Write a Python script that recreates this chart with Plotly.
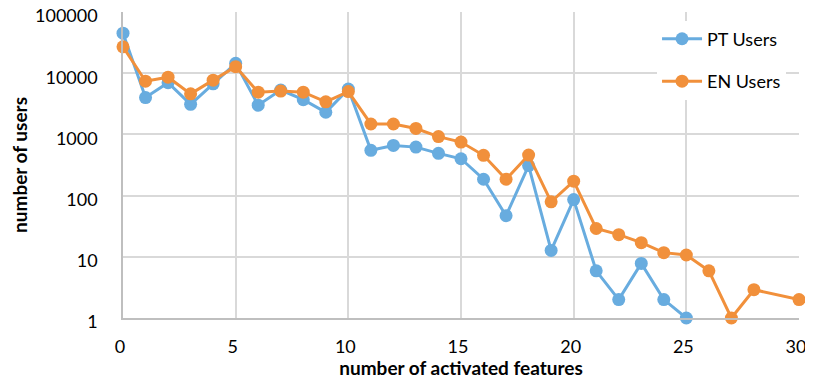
import plotly.graph_objects as go

pt_x = list(range(0, 26))
pt_users = [45000, 4000, 7000, 3100, 6700, 14500, 3000, 5300, 3700, 2300, 5500,
            550, 660, 620, 490, 400, 185, 47, 310, 12.7, 86, 5.9, 2, 7.8, 2, 1]
en_x = [0, 1, 2, 3, 4, 5, 6, 7, 8, 9, 10, 11, 12, 13, 14, 15, 16, 17, 18, 19, 20,
        21, 22, 23, 24, 25, 26, 27, 28, 30]
en_users = [27000, 7400, 8600, 4600, 7700, 12800, 4900, 5100, 4900, 3400, 5000,
            1480, 1480, 1250, 920, 750, 455, 185, 460, 79, 172, 29, 23, 17, 11.7,
            10.7, 5.9, 1, 2.9, 2]
y_ticks = [1, 10, 100, 1000, 10000, 100000]
x_ticks = [0, 5, 10, 15, 20, 25, 30]

BLUE = "#68ACDF"
ORANGE = "#F1903B"
FONT = "Lato, 'Open Sans', sans-serif"

fig = go.Figure()
fig.add_trace(go.Scatter(x=pt_x, y=pt_users, name="PT Users", mode="lines+markers",
                         legendgroup="pt",
                         line=dict(color=BLUE, width=3),
                         marker=dict(color=BLUE, size=13), cliponaxis=False))
fig.add_trace(go.Scatter(x=en_x, y=en_users, name="EN Users", mode="lines+markers",
                         legendgroup="en",
                         line=dict(color=ORANGE, width=3),
                         marker=dict(color=ORANGE, size=13), cliponaxis=False))

fig.update_layout(
    width=797, height=371,
    margin=dict(l=115, r=6, t=4, b=61, autoexpand=False),
    paper_bgcolor="white", plot_bgcolor="white",
    font=dict(family=FONT, size=18, color="#000000"),
    showlegend=True,
    legend=dict(x=0.79, y=0.972, xanchor="left", yanchor="top",
                bgcolor="white", font=dict(size=18, family=FONT, color="#000000"),
                itemwidth=40, tracegroupgap=16, borderwidth=0,
                traceorder="grouped"),
    xaxis=dict(range=[0, 30], tickvals=x_ticks, showgrid=True, automargin=False,
               gridcolor="#D9D9D9", gridwidth=1.5, zeroline=False,
               showline=True, linecolor="#BFBFBF", linewidth=1.5,
               ticks="", ticklabelstandoff=12, ticklabeloverflow="allow",
               ticklabelshift=-3,
               tickfont=dict(size=18, family=FONT),
               title=dict(text="<b>number of activated features</b>",
                          font=dict(size=19, family=FONT), standoff=24)),
    yaxis=dict(type="log", range=[0, 5], tickvals=y_ticks, automargin=False,
               ticktext=[str(v) for v in y_ticks], showgrid=True,
               gridcolor="#D9D9D9", gridwidth=1.5, zeroline=False,
               showline=True, linecolor="#BFBFBF", linewidth=1.5,
               ticks="", ticklabelstandoff=20, ticklabeloverflow="allow",
               ticklabelshift=4,
               tickfont=dict(size=18, family=FONT),
               title=dict(text="<b>number of users</b>",
                          font=dict(size=19, family=FONT), standoff=14)),
)

fig.write_html("out.html")
